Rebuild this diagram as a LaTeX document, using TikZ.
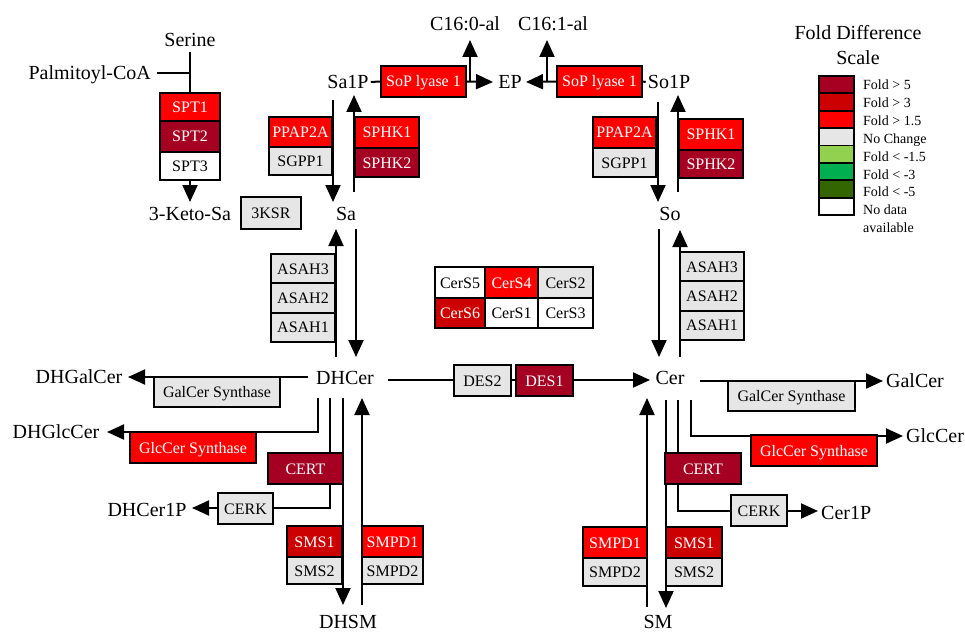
\documentclass[tikz,border=0pt]{standalone}
\usepackage{fontspec}
\setmainfont{Liberation Serif}
\usetikzlibrary{arrows.meta}
\definecolor{fgtfive}{HTML}{A50021}
\definecolor{fgtthree}{HTML}{CC0000}
\definecolor{fgtone}{HTML}{FF0000}
\definecolor{fnochange}{HTML}{E6E6E6}
\definecolor{fltone}{HTML}{92D050}
\definecolor{fltthree}{HTML}{00B050}
\definecolor{fltfive}{HTML}{336600}
\pgfdeclarelayer{bg}
\pgfsetlayers{bg,main}
\newcommand\genebox[7]{\node[#2, minimum width={(#5-#3)*1pt}, minimum height={(#6-#4)*1pt}] (#1) at ({(#3+#5)/2},{(#4+#6)/2}) {#7};}
\begin{document}
\begin{tikzpicture}[x=1pt,y=-1pt,
  lbl/.style={font=\fontsize{20}{24}\selectfont, inner sep=0pt, text height=13.5pt, text depth=0pt},
  gene/.style={draw=black, line width=1.8pt, inner sep=0pt, text height=11pt, text depth=0pt, font=\fontsize{16}{18}\selectfont},
  gfive/.style={gene, fill=fgtfive, text=white},
  gthree/.style={gene, fill=fgtthree, text=white},
  gone/.style={gene, fill=fgtone, text=white},
  gnc/.style={gene, fill=fnochange, text=black},
  gnd/.style={gene, fill=white, text=black},
  lbox/.style={draw=black, line width=1.8pt, inner sep=0pt},
  leg/.style={font=\fontsize{14}{16}\selectfont, inner sep=0pt, anchor=west, text height=9.5pt, text depth=0pt},
  conn/.style={line width=2pt},
  arr/.style={conn, -{Triangle[length=17pt,width=15pt]}}]
\useasboundingbox (0,0) rectangle (965,631);

% ---------- metabolite labels ----------
\node[lbl] (serine) at (190,40) {Serine};
\node[lbl, anchor=east] (palm) at (151,73) {Palmitoyl-CoA};
\node[lbl] (keto) at (190,214) {3-Keto-Sa};
\node[lbl] (sa1p) at (348,82) {Sa1P};
\node[lbl] (c160) at (465,24) {C16:0-al};
\node[lbl] (c161) at (553,24) {C16:1-al};
\node[lbl] (ep) at (510,82) {EP};
\node[lbl] (so1p) at (669,82) {So1P};
\node[lbl] (sa) at (346,214) {Sa};
\node[lbl] (so) at (670,214) {So};
\node[lbl] (dhcer) at (345,378) {DHCer};
\node[lbl] (cer) at (670,378) {Cer};
\node[lbl] (dhgalcer) at (79,377) {DHGalCer};
\node[lbl] (dhglccer) at (56,432) {DHGlcCer};
\node[lbl] (dhcerp) at (147,510) {DHCer1P};
\node[lbl] (galcer) at (915,381) {GalCer};
\node[lbl, anchor=west] (glccer) at (906,436) {GlcCer};
\node[lbl, anchor=west] (cerp) at (821,513) {Cer1P};
\node[lbl, anchor=base] (dhsm) at (348,628.5) {DHSM};
\node[lbl, anchor=base] (sm) at (658,628.5) {SM};

% ---------- enzyme boxes ----------
\genebox{spta}{gone}{160}{93}{220}{121}{SPT1}
\genebox{sptb}{gfive}{160}{121}{220}{152}{SPT2}
\genebox{sptc}{gnd}{160}{152}{220}{180}{SPT3}
\genebox{ksr}{gnc}{241}{197}{301}{229}{3KSR}
\genebox{ppapL}{gone}{269}{117}{332}{147}{PPAP2A}
\genebox{sgppL}{gnc}{269}{147}{332}{175}{SGPP1}
\genebox{sphkaL}{gone}{355}{117}{419}{148}{SPHK1}
\genebox{sphkbL}{gfive}{355}{148}{419}{177}{SPHK2}
\genebox{lyaseL}{gone}{381}{66}{466}{97}{SoP lyase 1}
\genebox{lyaseR}{gone}{557}{66}{642}{97}{SoP lyase 1}
\genebox{ppapR}{gone}{593}{117}{656}{148}{PPAP2A}
\genebox{sgppR}{gnc}{593}{148}{656}{177}{SGPP1}
\genebox{sphkaR}{gone}{679}{119}{743}{150}{SPHK1}
\genebox{sphkbR}{gfive}{679}{150}{743}{178}{SPHK2}
\genebox{asahcL}{gnc}{271}{254}{335}{283.3}{ASAH3}
\genebox{asahbL}{gnc}{271}{283.3}{335}{312.6}{ASAH2}
\genebox{asahaL}{gnc}{271}{312.6}{335}{342}{ASAH1}
\genebox{asahcR}{gnc}{680}{252}{744}{281.3}{ASAH3}
\genebox{asahbR}{gnc}{680}{281.3}{744}{310.6}{ASAH2}
\genebox{asahaR}{gnc}{680}{310.6}{744}{340}{ASAH1}
\genebox{cerse}{gnd}{435}{267}{485}{298}{CerS5}
\genebox{cersd}{gone}{485}{267}{538}{298}{CerS4}
\genebox{cersb}{gnc}{538}{267}{593}{298}{CerS2}
\genebox{cersf}{gthree}{435}{298}{485}{328}{CerS6}
\genebox{cersa}{gnd}{485}{298}{538}{328}{CerS1}
\genebox{cersc}{gnd}{538}{298}{593}{328}{CerS3}
\genebox{desb}{gnc}{454}{365}{511}{396}{DES2}
\genebox{desa}{gfive}{516}{365}{573}{396}{DES1}
\genebox{galsL}{gnc}{154}{377}{280}{407}{GalCer Synthase}
\genebox{glcsL}{gone}{130}{432}{256}{463}{GlcCer Synthase}
\genebox{certL}{gfive}{268}{453}{343}{484}{CERT}
\genebox{cerkL}{gnc}{218}{493}{273}{524}{CERK}
\genebox{smsaL}{gthree}{287}{526}{342}{557}{SMS1}
\genebox{smsbL}{gnc}{287}{557}{342}{584}{SMS2}
\genebox{smpdaL}{gone}{362}{526}{423}{557}{SMPD1}
\genebox{smpdbL}{gnc}{362}{557}{423}{584}{SMPD2}
\genebox{galsR}{gnc}{728}{381}{855}{411}{GalCer Synthase}
\genebox{glcsR}{gone}{751}{435}{877}{466}{GlcCer Synthase}
\genebox{certR}{gfive}{665}{453}{741}{484}{CERT}
\genebox{cerkR}{gnc}{731}{495}{787}{526}{CERK}
\genebox{smpdaR}{gone}{583}{527}{647}{558}{SMPD1}
\genebox{smpdbR}{gnc}{583}{558}{647}{586}{SMPD2}
\genebox{smsaR}{gthree}{666}{527}{722}{558}{SMS1}
\genebox{smsbR}{gnc}{666}{558}{722}{586}{SMS2}

% ---------- connector end points ----------
\coordinate (serbot) at (190,52);
\coordinate (palmj) at (190,73);
\coordinate (ketotip) at (190,202);
\coordinate (brL) at (470,82);
\coordinate (brLtip) at (470,40);
\coordinate (brR) at (547,82);
\coordinate (brRtip) at (547,40);
\coordinate (eptipL) at (493,82);
\coordinate (eptipR) at (526,82);
\coordinate (saDs) at (333,100);  \coordinate (saDt) at (333,202);
\coordinate (saUs) at (354,192);  \coordinate (saUt) at (354,95);
\coordinate (soDs) at (658,102);  \coordinate (soDt) at (658,202);
\coordinate (soUs) at (678,192);  \coordinate (soUt) at (678,95);
\coordinate (dhUs) at (336,357); \coordinate (dhUt) at (336,229);
\coordinate (dhDs) at (356,229); \coordinate (dhDt) at (356,357);
\coordinate (ceDs) at (659,229); \coordinate (ceDt) at (659,357);
\coordinate (ceUs) at (680,357); \coordinate (ceUt) at (680,230);
\coordinate (descs) at (388,380); \coordinate (desct) at (650,380);
\coordinate (dgals) at (308,377); \coordinate (dgalt) at (128,377);
\coordinate (cgals) at (700,381); \coordinate (cgalt) at (883,381);
\coordinate (lglcs) at (318,398); \coordinate (lglcc) at (318,432); \coordinate (lglct) at (107,432);
\coordinate (lcerts) at (330,398);
\coordinate (lcerkc) at (330,508);
\coordinate (lcerkt) at (192,508);
\coordinate (lsms) at (343,398); \coordinate (lsmt) at (343,605);
\coordinate (lsmps) at (362,605); \coordinate (lsmpt) at (362,398);
\coordinate (rglcs) at (691,400); \coordinate (rglcc) at (691,436); \coordinate (rglct) at (903,436);
\coordinate (rcerts) at (678,400);
\coordinate (rcerkc) at (678,511);
\coordinate (rcerkt) at (818,511);
\coordinate (rsms) at (666,400); \coordinate (rsmt) at (666,608);
\coordinate (rsmps) at (647,607); \coordinate (rsmpt) at (647,398);

% ---------- connectors (behind the boxes) ----------
\begin{pgfonlayer}{bg}
\draw[conn] (serbot) -- (spta.north);
\draw[conn] ([xshift=6pt]palm.east) -- (palmj);
\draw[arr] (sptc.south) -- (ketotip);
\draw[conn] ([xshift=2pt]sa1p.east) -- (lyaseL.west);
\draw[arr] (lyaseL.east) -- (eptipL);
\draw[arr] (brL) -- (brLtip);
\draw[arr] (lyaseR.west) -- (eptipR);
\draw[arr] (brR) -- (brRtip);
\draw[conn] (lyaseR.east) -- ([xshift=-2pt]so1p.west);
\draw[arr] (saDs) -- (saDt);
\draw[arr] (saUs) -- (saUt);
\draw[arr] (soDs) -- (soDt);
\draw[arr] (soUs) -- (soUt);
\draw[arr] (dhUs) -- (dhUt);
\draw[arr] (dhDs) -- (dhDt);
\draw[arr] (ceDs) -- (ceDt);
\draw[arr] (ceUs) -- (ceUt);
\draw[arr] (descs) -- (desct);
\draw[arr] (dgals) -- (dgalt);
\draw[arr] (cgals) -- (cgalt);
\draw[arr] (lglcs) -- (lglcc) -- (lglct);
\draw[conn] (lcerts) -- (lcerts |- certL.north);
\draw[conn] (lcerts |- certL.south) -- (lcerkc) -- (cerkL.east |- lcerkc);
\draw[arr] (cerkL.west |- lcerkt) -- (lcerkt);
\draw[arr] (lsms) -- (lsmt);
\draw[arr] (lsmps) -- (lsmpt);
\draw[arr] (rglcs) -- (rglcc) -- (rglct);
\draw[conn] (rcerts) -- (rcerts |- certR.north);
\draw[conn] (rcerts |- certR.south) -- (rcerkc) -- (cerkR.west |- rcerkc);
\draw[arr] (cerkR.east |- rcerkt) -- (rcerkt);
\draw[arr] (rsms) -- (rsmt);
\draw[arr] (rsmps) -- (rsmpt);
\end{pgfonlayer}

% ---------- legend ----------
\node[lbl] (legtitle) at (858,33) {Fold Difference};
\node[lbl] (legscale) at (858,58) {Scale};
\genebox{lga}{lbox, fill=fgtfive}{819}{76}{854}{93.4}{}
\genebox{lgb}{lbox, fill=fgtthree}{819}{93.4}{854}{110.75}{}
\genebox{lgc}{lbox, fill=fgtone}{819}{110.75}{854}{128.1}{}
\genebox{lgd}{lbox, fill=fnochange}{819}{128.1}{854}{145.5}{}
\genebox{lge}{lbox, fill=fltone}{819}{145.5}{854}{162.9}{}
\genebox{lgf}{lbox, fill=fltthree}{819}{162.9}{854}{180.25}{}
\genebox{lgg}{lbox, fill=fltfive}{819}{180.25}{854}{197.6}{}
\genebox{lgh}{lbox, fill=white}{819}{197.6}{854}{215}{}
\node[leg] (lta) at (863,85) {Fold > 5};
\node[leg] (ltb) at (863,103) {Fold > 3};
\node[leg] (ltc) at (863,121) {Fold > 1.5};
\node[leg] (ltd) at (863,139) {No Change};
\node[leg] (lte) at (863,157) {Fold < -1.5};
\node[leg] (ltf) at (863,175) {Fold < -3};
\node[leg] (ltg) at (863,192) {Fold < -5};
\node[leg] (lth) at (863,210) {No data};
\node[leg] (lti) at (863,228) {available};
\end{tikzpicture}
\end{document}
